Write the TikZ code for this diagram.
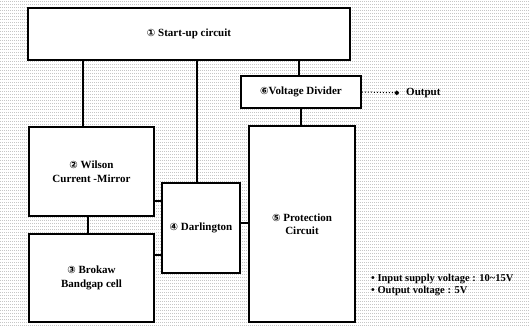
\documentclass[tikz,border=0pt]{standalone}
\usepackage{fontspec}
\setmainfont{Liberation Serif}
\newfontfamily\symfont{DejaVu Sans}
\usetikzlibrary{positioning,arrows.meta,calc}
\newcommand{\circnum}[1]{{\symfont\fontsize{10}{11}\selectfont #1}}

\begin{document}
\begin{tikzpicture}[x=1pt, y=-1pt,
    blockStyle/.style={rectangle, draw=black, fill=white, line width=1.6pt, align=center, font=\fontsize{11}{13.5}\selectfont\bfseries, inner sep=2pt},
    linkStyle/.style={draw=black, line width=1.6pt},
    hatchStyle/.style={draw=gray!45, line width=0.6pt, dash pattern=on 1pt off 1pt}
]
    \useasboundingbox (0,0) rectangle (529,327);
    \fill[white] (0,0) rectangle (529,327);
    % dotted background
    \foreach \y in {1.5,4.5,...,327} {
        \draw[hatchStyle] (0,\y) -- (529,\y);
    }

    \node[blockStyle, minimum width=322pt, minimum height=52pt] (start) at (189,34) {\circnum{①} Start-up circuit};
    \node[blockStyle, minimum width=120pt, minimum height=32pt] (divider) at (301,92) {\circnum{⑥}Voltage Divider};
    \node[blockStyle, minimum width=125pt, minimum height=89pt] (wilson) at (91.5,171.5) {\circnum{②} Wilson\\Current -Mirror};
    \node[blockStyle, minimum width=125pt, minimum height=88pt] (brokaw) at (91.5,278) {\circnum{③} Brokaw\\Bandgap cell};
    \node[blockStyle, minimum width=78pt, minimum height=90pt] (darl) at (201,228) {\circnum{④} Darlington};
    \node[blockStyle, minimum width=106pt, minimum height=196pt] (protect) at (302,224) {\circnum{⑤} Protection\\Circuit};

    \node[font=\fontsize{11}{13}\selectfont\bfseries, anchor=west, inner sep=1pt] (output) at (405,93) {Output};
    \node[font=\fontsize{10.5}{12}\selectfont\bfseries, anchor=west, align=left, inner sep=0pt] (notes) at (371,285)
        {\textbullet\ Input supply voltage : 10\textasciitilde15V\\\textbullet\ Output voltage : 5V};

    % links from start-up circuit
    \coordinate (wTop) at ([xshift=55pt]wilson.north west);
    \coordinate (dTop) at ([xshift=36pt]darl.north west);
    \coordinate (vTop) at ([xshift=59pt]divider.north west);
    \draw[linkStyle] (wTop) -- (wTop |- start.south);
    \draw[linkStyle] (dTop) -- (dTop |- start.south);
    \draw[linkStyle] (vTop) -- (vTop |- start.south);

    % remaining links
    \coordinate (vBot) at ([xshift=61pt]divider.south west);
    \draw[linkStyle] (vBot) -- (vBot |- protect.north);
    \coordinate (wBot) at ([xshift=60pt]wilson.south west);
    \draw[linkStyle] (wBot) -- (wBot |- brokaw.north);
    \coordinate (wRight) at ([yshift=16pt]wilson.south east);
    \draw[linkStyle] (wRight) -- (wRight -| darl.west);
    \coordinate (bRight) at ([yshift=-22pt]brokaw.north east);
    \draw[linkStyle] (bRight) -- (bRight -| darl.west);
    \coordinate (dRight) at ([yshift=5pt]darl.east);
    \draw[linkStyle] (dRight) -- (dRight -| protect.west);

    \draw[black, line width=1pt, dotted, shorten >=6pt, -{Circle[length=4.5pt]}] (divider.east) -- (output.west);
\end{tikzpicture}
\end{document}
